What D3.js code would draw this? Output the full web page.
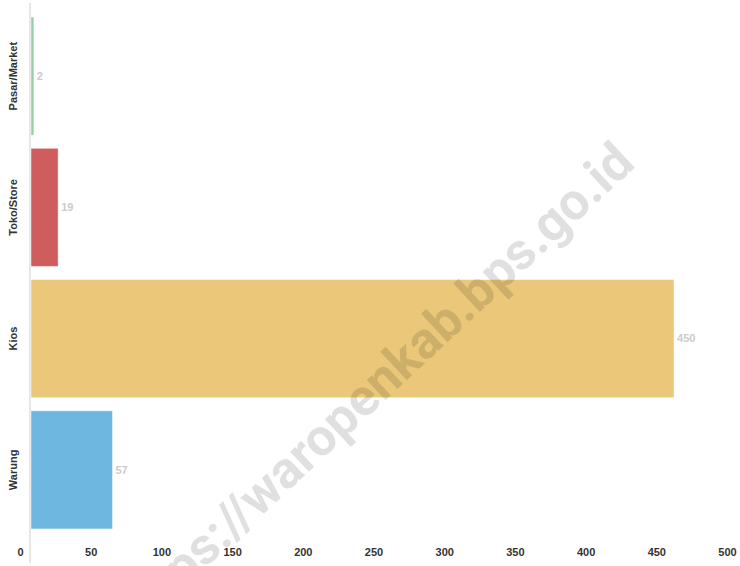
<!DOCTYPE html>
<html>
<head>
<meta charset="utf-8">
<script src="https://cdn.jsdelivr.net/npm/d3@7"></script>
<style>
  html, body { margin: 0; padding: 0; background: #fff; }
  svg { display: block; font-family: "Liberation Sans", Arial, sans-serif; }
</style>
</head>
<body>
<svg id="chart" width="740" height="566"></svg>
<script>
// Outlet types and their counts
const categories = ["Pasar/Market", "Toko/Store", "Kios", "Warung"];
const values = [2, 19, 450, 57];
const colors = ["#93cfa6", "#cf5d5e", "#ebc879", "#6db7e1"];
const tickValues = [0, 50, 100, 150, 200, 250, 300, 350, 400, 450, 500];
const watermarkText = "https://waropenkab.bps.go.id";

const svg = d3.select("#chart");

// horizontal value scale for the bars
const x = d3.scaleLinear().domain([0, 500]).range([31, 745.5]);
// scale used for placing the bottom tick labels
const xTicks = d3.scaleLinear().domain([0, 500]).range([20, 727]);

const y = d3.scaleBand()
  .domain(categories)
  .range([10.5, 535.5])
  .paddingInner(0.1)
  .paddingOuter(0.05);

// baseline on the left
svg.append("line")
  .attr("x1", 30).attr("x2", 30)
  .attr("y1", 3).attr("y2", 563)
  .attr("stroke", "#e6e6e6")
  .attr("stroke-width", 2);

// bars
svg.append("g").selectAll("rect")
  .data(categories)
  .join("rect")
  .attr("x", x(0))
  .attr("y", d => y(d))
  .attr("width", (d, i) => x(values[i]) - x(0))
  .attr("height", y.bandwidth())
  .attr("fill", (d, i) => colors[i])
  .attr("stroke", "rgba(255,255,255,0.45)")
  .attr("stroke-width", 1);

// value labels at bar ends
svg.append("g").selectAll("text")
  .data(categories)
  .join("text")
  .attr("x", (d, i) => x(values[i]) + 3)
  .attr("y", d => y(d) + y.bandwidth() / 2)
  .attr("dy", "0.35em")
  .attr("fill", "#cbcbcb")
  .attr("font-size", 11)
  .attr("font-weight", 700)
  .text((d, i) => values[i]);

// category labels, rotated
svg.append("g").selectAll("text")
  .data(categories)
  .join("text")
  .attr("transform", d => `translate(17,${y(d) + y.bandwidth() / 2}) rotate(-90)`)
  .attr("text-anchor", "middle")
  .attr("fill", "#333")
  .attr("font-size", 11)
  .attr("font-weight", 700)
  .text(d => d);

// bottom tick labels
const axis = svg.append("g")
  .attr("transform", "translate(0,548)")
  .call(d3.axisBottom(xTicks).tickValues(tickValues).tickSize(0).tickPadding(0));
axis.select(".domain").remove();
axis.selectAll("text")
  .attr("font-family", "'Liberation Sans', Arial, sans-serif")
  .attr("font-size", 11)
  .attr("font-weight", 700)
  .attr("fill", "#333");

// diagonal watermark over the plot
svg.append("text")
  .attr("transform", "translate(374,386) rotate(-43)")
  .attr("text-anchor", "middle")
  .attr("dy", "0.35em")
  .attr("font-family", "Roboto, 'Liberation Sans', sans-serif")
  .attr("font-size", 52)
  .attr("font-weight", 700)
  .attr("fill", "#000")
  .attr("fill-opacity", 0.12)
  .text(watermarkText);
</script>
</body>
</html>
